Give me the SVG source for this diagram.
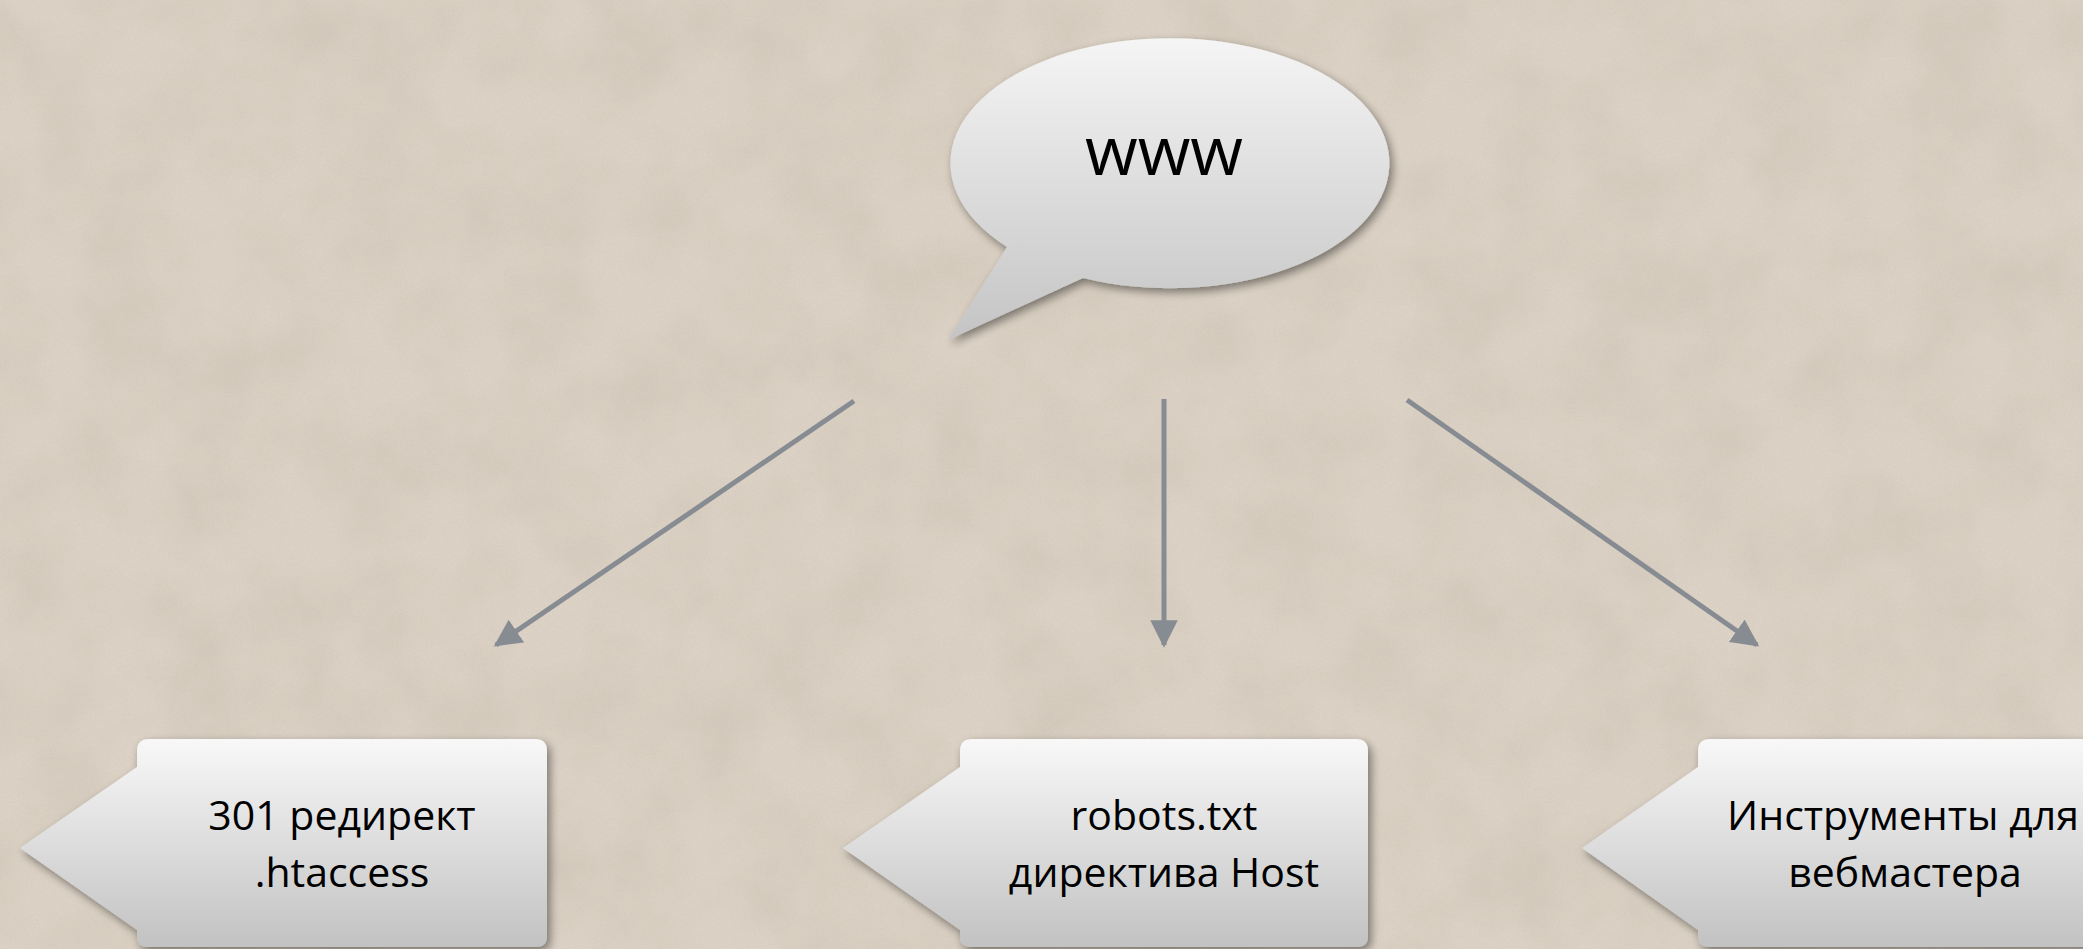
<svg xmlns="http://www.w3.org/2000/svg" width="2083" height="949" viewBox="0 0 2083 949">
<defs>
<linearGradient id="gBox" x1="0" y1="0" x2="0" y2="1">
<stop offset="0" stop-color="#f8f8f8"/>
<stop offset="1" stop-color="#c2c2c2"/>
</linearGradient>
<linearGradient id="gBub" x1="0" y1="0" x2="0" y2="1">
<stop offset="0" stop-color="#f5f5f5"/>
<stop offset="1" stop-color="#c4c4c4"/>
</linearGradient>
<filter id="shadow" x="-10%" y="-10%" width="130%" height="130%">
<feGaussianBlur in="SourceAlpha" stdDeviation="5"/>
<feOffset dx="3" dy="4" result="b"/>
<feComponentTransfer><feFuncA type="linear" slope="0.45"/></feComponentTransfer>
<feMerge><feMergeNode/><feMergeNode in="SourceGraphic"/></feMerge>
</filter>
<filter id="tex" x="0" y="0" width="100%" height="100%">
<feTurbulence type="fractalNoise" baseFrequency="0.012" numOctaves="5" seed="7"/>
<feColorMatrix type="matrix" values="0 0 0 0 0.45  0 0 0 0 0.40  0 0 0 0 0.33  0 0 0 -1.1 0.75"/>
</filter>
<filter id="grain" x="0" y="0" width="100%" height="100%">
<feTurbulence type="fractalNoise" baseFrequency="0.5" numOctaves="2" seed="3"/>
<feColorMatrix type="matrix" values="0 0 0 0 0.5  0 0 0 0 0.45  0 0 0 0 0.38  0 0 0 -1.4 0.9"/>
</filter>
<marker id="ah" viewBox="0 0 10 10" refX="9" refY="5" markerWidth="5.5" markerHeight="5.5" orient="auto" markerUnits="strokeWidth">
<path d="M0,0 L10,5 L0,10 Z" fill="#878c93"/>
</marker>
<style>
.lbl{font-family:"Open Sans","Liberation Sans",sans-serif;font-size:41px;fill:#000;text-anchor:middle}
.big{font-family:"Open Sans","Liberation Sans",sans-serif;font-size:68px;fill:#000;text-anchor:middle}
.conn{stroke:#878c93;stroke-width:5;fill:none;marker-end:url(#ah)}
.box{fill:url(#gBox);filter:url(#shadow)}
</style>
</defs>
<g id="background">
<rect x="0" y="0" width="2083" height="949" fill="#dcd2c5"/>
<rect x="0" y="0" width="2083" height="949" filter="url(#tex)" opacity="0.35"/>
<rect x="0" y="0" width="2083" height="949" filter="url(#grain)" opacity="0.2"/>
</g>
<g id="connectors">
<line class="conn" x1="854" y1="401" x2="496" y2="645"/>
<line class="conn" x1="1164" y1="399" x2="1164" y2="645"/>
<line class="conn" x1="1407" y1="400" x2="1757" y2="645"/>
</g>
<g id="node-www">
<path fill="url(#gBub)" filter="url(#shadow)" d="M1007,247 A219.5,125 0 1 1 1083,278 L948,340 Z"/>
<text class="big" x="1164" y="175">www</text>
</g>
<g id="node-301">
<path class="box" d="M20,848 L137,767 L137,751 Q137,739 149,739 L535,739 Q547,739 547,751 L547,936 Q547,947 536,947 L148,947 Q137,947 137,936 L137,930 Z"/>
<text class="lbl" x="342" y="830">301 редирект</text>
<text class="lbl" x="342" y="887">.htaccess</text>
</g>
<g id="node-robots">
<path class="box" d="M843,848 L960,767 L960,751 Q960,739 972,739 L1356,739 Q1368,739 1368,751 L1368,936 Q1368,947 1357,947 L971,947 Q960,947 960,936 L960,930 Z"/>
<text class="lbl" x="1164" y="830">robots.txt</text>
<text class="lbl" x="1164" y="887">директива Host</text>
</g>
<g id="node-webmaster">
<path class="box" d="M1582,848 L1698,767 L1698,751 Q1698,739 1710,739 L2110,739 L2110,947 L1709,947 Q1698,947 1698,936 L1698,930 Z"/>
<text class="lbl" x="1903" y="830">Инструменты для</text>
<text class="lbl" x="1905" y="887">вебмастера</text>
</g>
</svg>
